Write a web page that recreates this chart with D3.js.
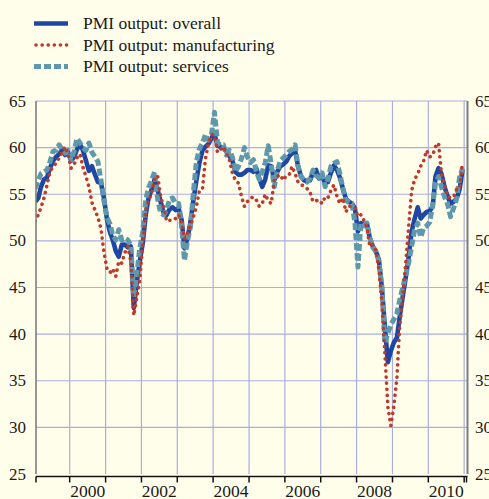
<!DOCTYPE html>
<html>
<head>
<meta charset="utf-8">
<script src="https://cdn.jsdelivr.net/npm/d3@7"></script>
<style>
  body { margin: 0; background: #fffeeb; }
  svg { display: block; }
</style>
</head>
<body>
<script>
// Monthly PMI output values, Jan 1999 - Dec 2010
var overall = [
  54.2, 54.6, 55.8, 56.6, 56.8, 57.8, 58.6, 59.0, 59.3, 59.7,
  59.2, 59.5, 58.6, 59.0, 59.8, 60.4, 59.7, 58.6, 57.5, 58.0,
  57.1, 56.3, 56.2, 54.6, 52.3, 50.9, 50.1, 48.9, 48.3, 49.6,
  49.6, 49.3, 49.4, 42.8, 45.6, 47.8, 49.8, 52.9, 54.6, 55.5,
  56.6, 55.5, 54.2, 53.0, 52.8, 53.4, 53.6, 53.3, 53.5, 52.2,
  49.2, 50.3, 52.0, 54.4, 56.5, 58.4, 59.7, 60.1, 60.4, 61.0,
  61.5, 60.2, 60.1, 60.0, 59.6, 59.1, 58.6, 57.4, 57.1, 57.1,
  57.3, 57.6, 57.6, 57.4, 57.8, 56.7, 55.8, 56.6, 58.1, 58.0,
  56.5, 57.4, 58.0, 58.2, 58.5, 59.1, 59.4, 59.7, 58.0, 56.9,
  56.5, 56.4, 56.5, 57.4, 57.6, 56.7, 56.9, 56.2, 56.3, 57.3,
  58.1, 57.6, 56.8, 55.6, 54.5, 54.2, 54.0, 53.5, 51.0, 51.9,
  51.7, 51.9, 50.3, 49.4, 48.9, 48.0, 45.0, 40.8, 37.0, 38.2,
  39.1, 39.6, 41.8, 44.0, 46.0, 48.3, 51.0, 52.4, 53.6, 52.4,
  52.8, 53.1, 53.2, 53.7, 56.9, 57.8, 57.2, 55.8, 54.8, 54.0,
  54.2, 54.5, 55.5, 57.6
];

var manufacturing = [
  52.1, 52.8, 53.6, 54.6, 56.0, 57.4, 58.0, 58.3, 58.9, 59.5,
  60.1, 59.3, 57.8, 58.2, 58.9, 59.3, 57.9, 56.9, 55.8, 54.1,
  53.3, 52.5, 51.3, 48.8, 47.0, 46.6, 47.0, 46.2, 47.8, 47.6,
  48.7, 49.4, 47.8, 42.0, 44.0, 45.8, 49.8, 53.3, 54.3, 55.1,
  56.6, 57.0, 54.8, 53.6, 52.1, 52.2, 52.2, 52.4, 52.8, 51.9,
  50.2, 50.8, 51.6, 52.6, 53.7, 55.4, 55.6, 58.8, 60.5, 61.4,
  61.3, 59.5, 59.8, 60.1, 59.4, 58.7, 57.3, 56.5, 56.2, 54.8,
  53.7, 54.2, 54.6, 54.7, 54.4, 53.7, 54.0, 55.0, 54.3, 54.0,
  56.5, 56.9, 57.1, 56.5, 57.0, 57.1, 58.0, 57.2, 56.3, 56.0,
  55.9, 55.6, 55.2, 54.2, 54.3, 54.4, 54.0, 54.7, 54.6, 55.4,
  56.0, 54.8, 54.0, 54.6, 53.1, 53.7, 53.7, 53.6, 52.6, 52.8,
  52.2, 51.5, 49.4, 49.6, 49.0, 47.0, 43.5, 38.0, 32.2, 30.2,
  32.3, 35.3, 40.8, 44.0, 47.5, 51.6, 55.4, 56.6, 57.2, 58.0,
  58.6, 59.7, 59.0, 59.2, 60.1, 60.5, 57.2, 56.0, 54.8, 54.6,
  54.7, 55.5, 55.6, 58.4
];

var services = [
  55.6, 56.5, 57.2, 57.4, 57.6, 58.5, 59.6, 59.7, 60.3, 59.8,
  59.4, 59.7, 58.7, 59.6, 61.0, 60.5, 60.0, 59.7, 60.5, 59.5,
  59.0, 58.5, 56.5, 54.3, 52.5, 51.8, 50.6, 50.1, 51.2, 50.1,
  50.3, 50.1, 49.5, 44.0, 46.5, 49.2, 51.0, 54.5, 55.7, 56.5,
  57.4, 54.5, 53.0, 52.8, 53.3, 54.5, 54.6, 54.0, 54.0, 51.5,
  47.9, 50.0, 51.5, 55.3, 58.5, 59.9, 60.5, 61.4, 60.8, 61.4,
  63.8, 60.5, 60.3, 60.3, 59.2, 59.7, 59.0, 57.4, 58.0, 58.8,
  60.0, 59.0, 58.4, 58.7, 57.5, 56.6, 57.4, 58.4, 60.2, 58.2,
  55.8, 57.5, 58.6, 58.9, 59.2, 59.6, 59.8, 60.3, 58.0, 56.9,
  56.5, 56.3, 56.7, 57.6, 57.0, 56.8, 57.3, 55.8, 56.6, 58.0,
  58.3, 58.5, 57.2, 55.6, 54.4, 54.1, 54.0, 52.0, 47.2, 51.9,
  51.6, 51.9, 50.3, 49.3, 48.9, 47.8, 45.1, 39.0, 40.1, 41.0,
  41.6, 42.2, 43.6, 45.0, 46.3, 47.7, 49.4, 51.2, 51.9, 50.4,
  51.4, 51.6, 52.0, 53.9, 56.2, 56.9, 55.8, 54.7, 54.0, 52.6,
  53.5, 54.5, 56.8, 57.8
];

var seriesNames = ["PMI output: overall", "PMI output: manufacturing", "PMI output: services"];
var yTicks = [25, 30, 35, 40, 45, 50, 55, 60, 65];
var yearLabels = [2000, 2002, 2004, 2006, 2008, 2010];
var yearBounds = d3.range(2000, 2012);

// SVG size and plot area
var svg_Width = 489;
var svg_Height = 499;
var plot = { left: 36, right: 467.5, top: 101, bottom: 474 };
var serif = "'Liberation Serif', Tinos, 'Times New Roman', Times, serif";

var svg = d3.select("body")
  .append("svg")
  .attr("width", svg_Width)
  .attr("height", svg_Height)
  .style("font-family", serif);

svg.append("rect")
  .attr("width", svg_Width)
  .attr("height", svg_Height)
  .attr("fill", "#fffeeb");

// one date per month, placed mid-month
var dates = d3.range(overall.length).map(function(i) {
  return new Date(1999, i, 15);
});

var x = d3.scaleTime()
  .domain([new Date(1999, 0, 23), new Date(2011, 1, 4)])
  .range([plot.left, plot.right]);

var y = d3.scaleLinear()
  .domain([25, 65])
  .range([plot.bottom, plot.top]);

var gridColor = "#a9aee0";

// horizontal grid lines
svg.append("g")
  .selectAll("line")
  .data(yTicks.filter(function(d) { return d > 25; }))
  .enter()
  .append("line")
  .attr("x1", plot.left)
  .attr("x2", plot.right)
  .attr("y1", function(d) { return y(d); })
  .attr("y2", function(d) { return y(d); })
  .attr("stroke", gridColor)
  .attr("stroke-width", 1.2);

// vertical grid lines at year boundaries
svg.append("g")
  .selectAll("line")
  .data(yearBounds)
  .enter()
  .append("line")
  .attr("x1", function(d) { return x(new Date(d, 0, 1)); })
  .attr("x2", function(d) { return x(new Date(d, 0, 1)); })
  .attr("y1", plot.top)
  .attr("y2", plot.bottom)
  .attr("stroke", gridColor)
  .attr("stroke-width", 1.2);

// lines
svg.append("clipPath")
  .attr("id", "clip")
  .append("rect")
  .attr("x", plot.left)
  .attr("y", 0)
  .attr("width", plot.right - plot.left)
  .attr("height", svg_Height);

var lineGen = d3.line()
  .x(function(d, i) { return x(dates[i]); })
  .y(function(d) { return y(d); });

var styles = [
  { color: "#1d47a3", width: 4.6, dash: null, cap: "butt" },
  { color: "#c0392b", width: 3.6, dash: "0.1 6", cap: "round" },
  { color: "#5e98ac", width: 5, dash: "7 3", cap: "butt" }
];

var lines = svg.append("g").attr("clip-path", "url(#clip)");

[[overall, 0], [services, 2], [manufacturing, 1]].forEach(function(s) {
  var st = styles[s[1]];
  lines.append("path")
    .datum(s[0])
    .attr("d", lineGen)
    .attr("fill", "none")
    .attr("stroke", st.color)
    .attr("stroke-width", st.width)
    .attr("stroke-dasharray", st.dash)
    .attr("stroke-linecap", st.cap)
    .attr("stroke-linejoin", "round");
});

// left and right axis lines
svg.append("line")
  .attr("x1", plot.left).attr("x2", plot.left)
  .attr("y1", plot.top).attr("y2", plot.bottom)
  .attr("stroke", "#7d7d7d").attr("stroke-width", 1.6);

svg.append("line")
  .attr("x1", plot.right).attr("x2", plot.right)
  .attr("y1", plot.top).attr("y2", plot.bottom)
  .attr("stroke", "#7d7d7d").attr("stroke-width", 2);

// y tick labels on both sides
svg.append("g")
  .selectAll("text")
  .data(yTicks)
  .enter()
  .append("text")
  .attr("x", 26)
  .attr("y", function(d) { return y(d); })
  .attr("dy", "0.33em")
  .attr("text-anchor", "end")
  .attr("fill", "#1a1a1a")
  .style("font-size", "17px")
  .text(function(d) { return d; });

svg.append("g")
  .selectAll("text")
  .data(yTicks)
  .enter()
  .append("text")
  .attr("x", 475)
  .attr("y", function(d) { return y(d); })
  .attr("dy", "0.33em")
  .attr("fill", "#1a1a1a")
  .style("font-size", "17px")
  .text(function(d) { return d; });

// bottom axis: line with year boundary ticks
var axisY = 476.5;
var tickX = [plot.left].concat(yearBounds.map(function(d) { return x(new Date(d, 0, 1)); })).concat([plot.right - 1]);

svg.append("line")
  .attr("x1", plot.left)
  .attr("x2", plot.right)
  .attr("y1", axisY)
  .attr("y2", axisY)
  .attr("stroke", "#111")
  .attr("stroke-width", 1.5);

svg.append("g")
  .selectAll("line")
  .data(tickX)
  .enter()
  .append("line")
  .attr("x1", function(d) { return d; })
  .attr("x2", function(d) { return d; })
  .attr("y1", axisY)
  .attr("y2", axisY + 6)
  .attr("stroke", "#111")
  .attr("stroke-width", 1.5);

svg.append("g")
  .selectAll("text")
  .data(yearLabels)
  .enter()
  .append("text")
  .attr("x", function(d) { return x(new Date(d, 6, 2)); })
  .attr("y", 497)
  .attr("text-anchor", "middle")
  .attr("fill", "#1a1a1a")
  .style("font-size", "17.5px")
  .text(function(d) { return d; });

// legend
var legendRows = [0, 1, 2].map(function(i) {
  return { name: seriesNames[i], style: styles[i], y: 23.5 + i * 21.5 };
});

var legend = svg.append("g");

legend.selectAll("line")
  .data(legendRows)
  .enter()
  .append("line")
  .attr("x1", function(d) { return d.style.cap === "round" ? 36 : 34; })
  .attr("x2", 68)
  .attr("y1", function(d) { return d.y; })
  .attr("y2", function(d) { return d.y; })
  .attr("stroke", function(d) { return d.style.color; })
  .attr("stroke-width", function(d) { return d.style.width; })
  .attr("stroke-dasharray", function(d) { return d.style.dash; })
  .attr("stroke-linecap", function(d) { return d.style.cap; });

legend.selectAll("text")
  .data(legendRows)
  .enter()
  .append("text")
  .attr("x", 83)
  .attr("y", function(d) { return d.y + 5.8; })
  .attr("fill", "#1a1a1a")
  .style("font-size", "17.5px")
  .text(function(d) { return d.name; });
</script>
</body>
</html>
